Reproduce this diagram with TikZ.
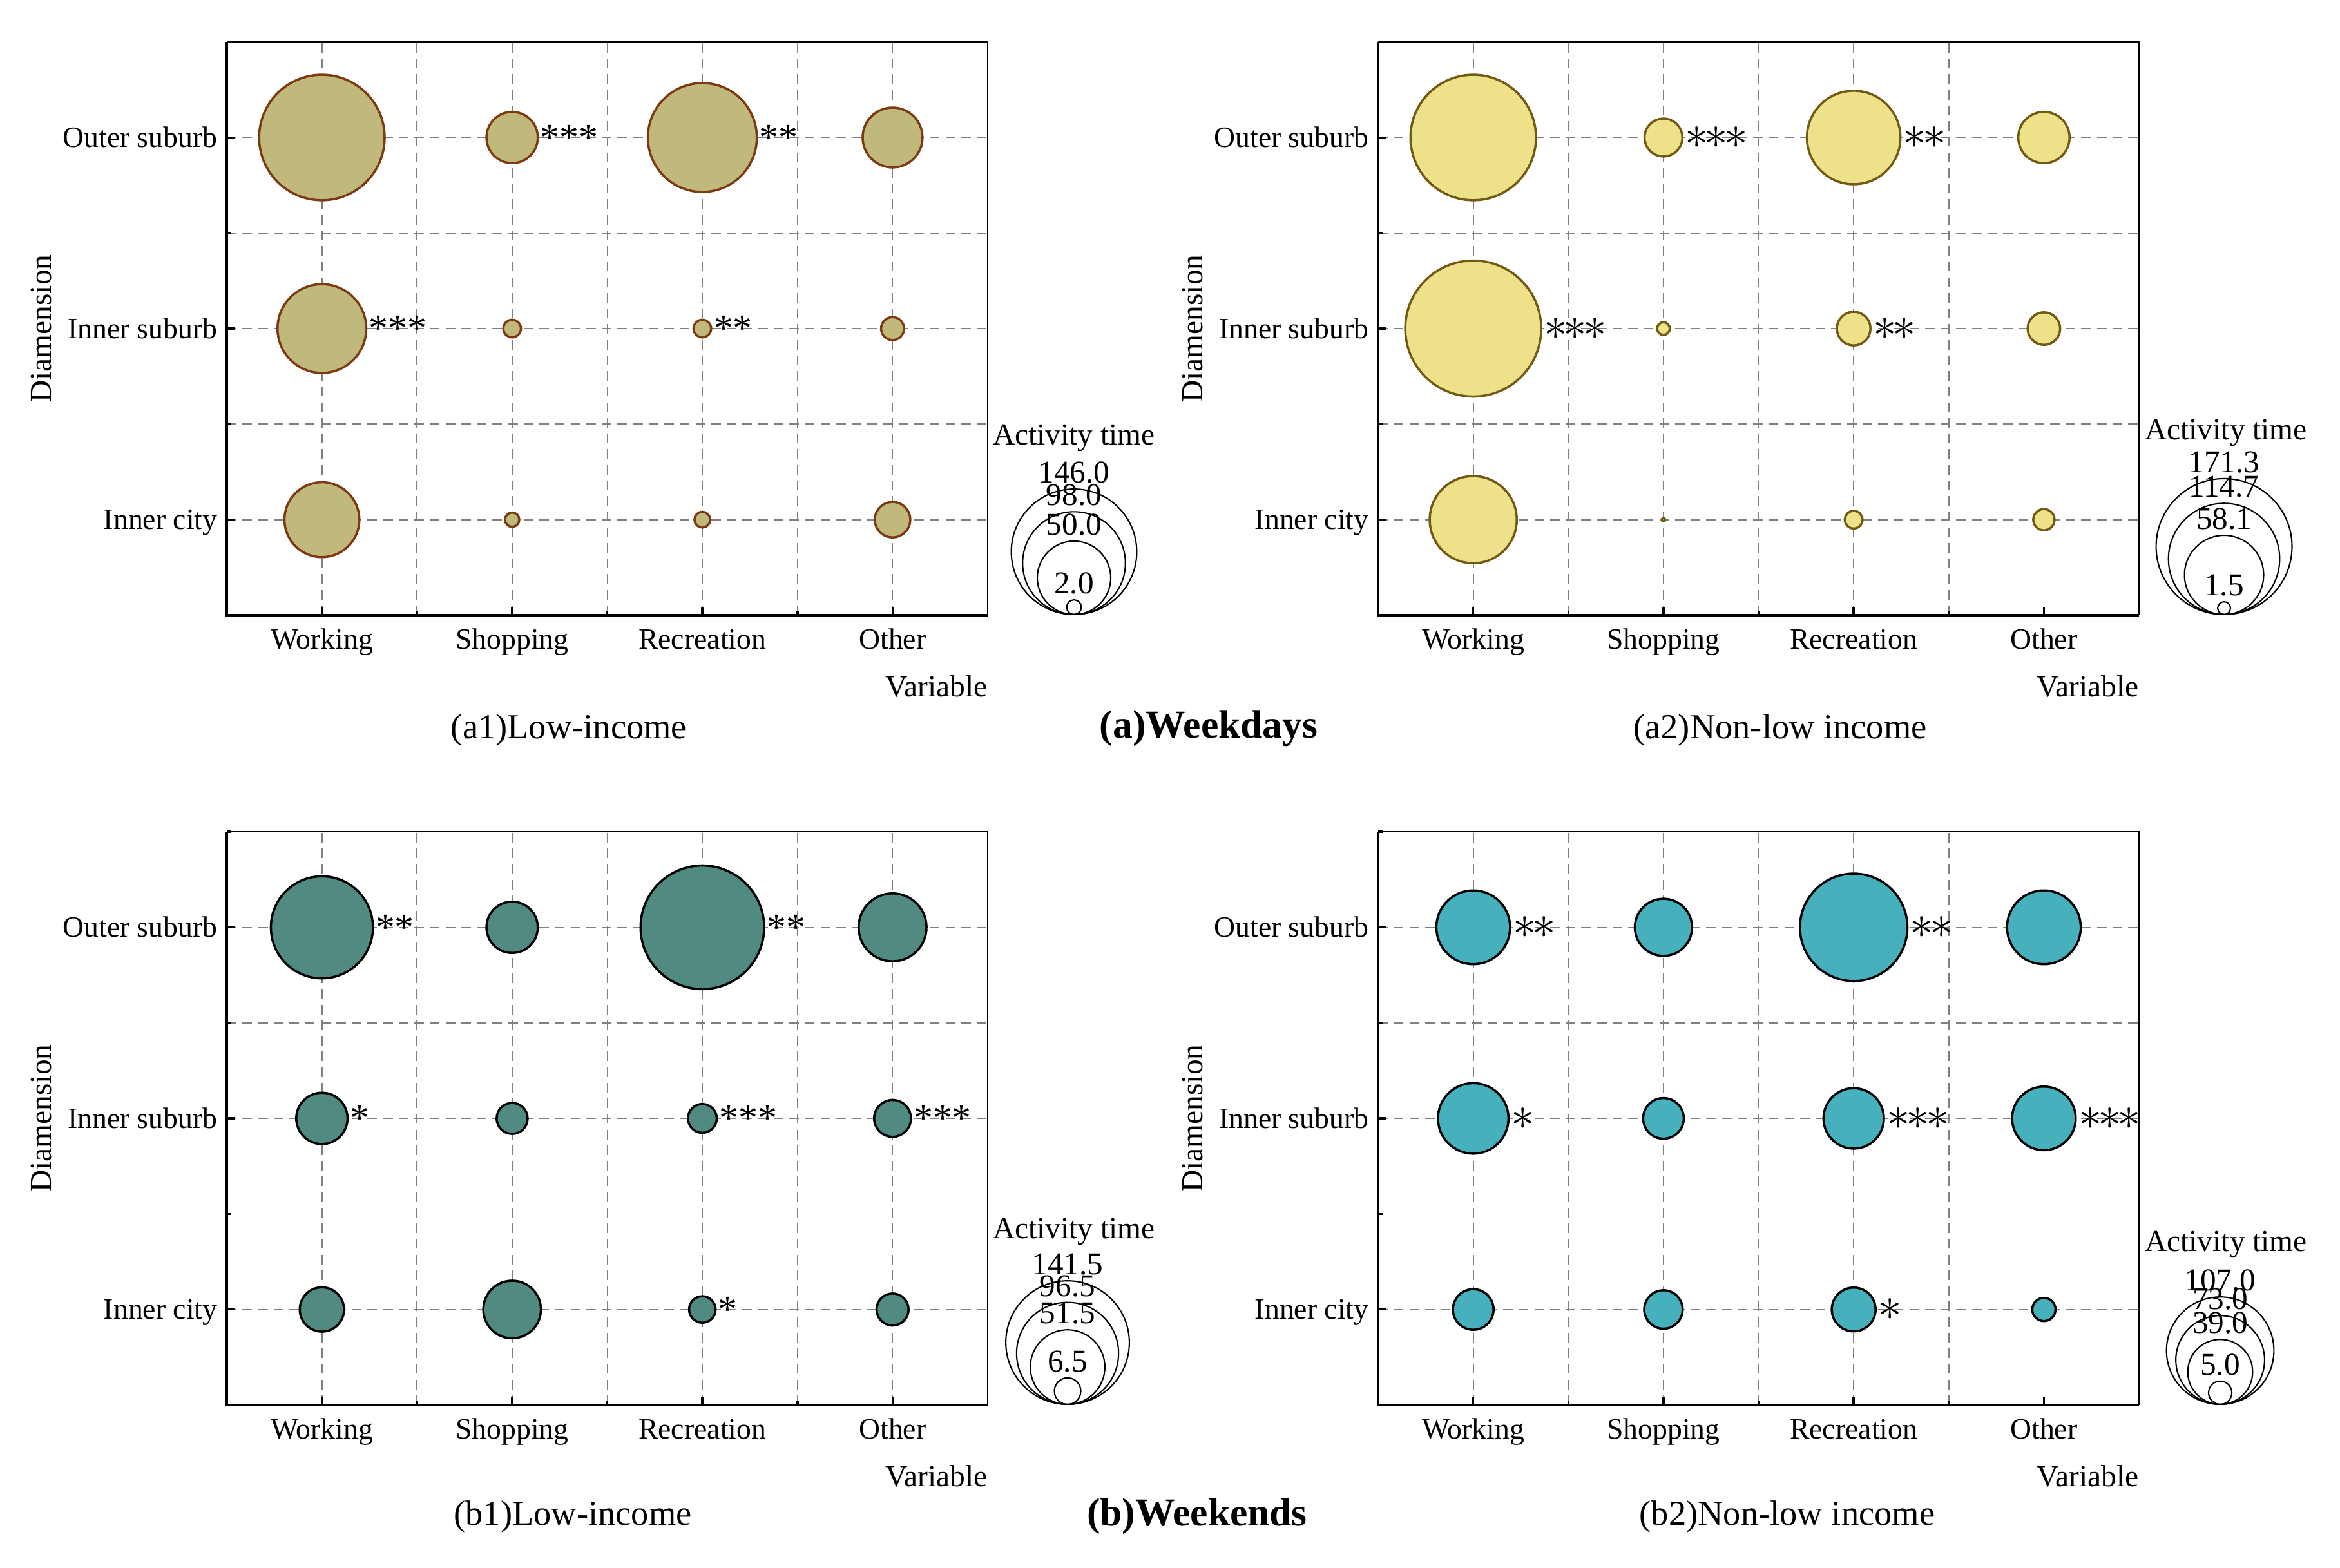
\documentclass[tikz,border=0pt]{standalone}
\usepackage{fontspec}
\setmainfont{Liberation Serif}
\usetikzlibrary{positioning}
\tikzset{>=stealth}

\definecolor{khaki}{HTML}{C1B87C}
\definecolor{rust}{HTML}{7C3A12}
\definecolor{lemon}{HTML}{EDE18A}
\definecolor{umber}{HTML}{735A12}
\definecolor{seagreen}{HTML}{508A80}
\definecolor{lagoon}{HTML}{46B0BC}

\newcommand{\bsize}{0.1612cm}
\newcommand{\mast}{\mathord{\ast}\mkern-1.5mu}

\tikzset{
  gridline/.style={draw=black!50, line width=0.5pt, dash pattern=on 4.3pt off 2.6pt},
  axisline/.style={line width=1pt},
  frameline/.style={line width=0.5pt},
  ticklabel/.style={font=\fontsize{13}{15}\selectfont, inner sep=0pt},
  axistitle/.style={font=\fontsize{13.5}{16}\selectfont, inner sep=0pt},
  caption/.style={font=\fontsize{15.5}{18}\selectfont, inner sep=0pt},
  maintitle/.style={font=\fontsize{17.5}{20}\selectfont\bfseries, inner sep=0pt},
  bubble/.style={circle, inner sep=0pt, line width=1pt},
  bubble a1/.style={bubble, draw=rust, fill=khaki},
  bubble a2/.style={bubble, draw=umber, fill=lemon},
  bubble b1/.style={bubble, draw=black, fill=seagreen},
  bubble b2/.style={bubble, draw=black, fill=lagoon},
  stars/.style={font=\fontsize{17}{20}\selectfont, inner sep=0.5pt},
  bigstars/.style={font=\fontsize{20}{22}\selectfont, inner sep=0.5pt},
  legendring/.style={circle, draw, inner sep=0pt, line width=0.6pt, anchor=south},
  legendtitle/.style={font=\fontsize{13.5}{16}\selectfont, inner sep=0pt, anchor=base},
  sizelabel/.style={font=\fontsize{14}{16}\selectfont, inner sep=0pt}
}

\newcommand{\panelaxes}[1]{%
  \foreach \i in {0.5,1,...,3.5} \draw[gridline] (\i,0) -- (\i,3);
  \foreach \j in {0.5,1,...,2.5} \draw[gridline] (0,\j) -- (4,\j);
  \draw[frameline] (0,3) -- (4,3) -- (4,0);
  \draw[axisline] (0,3) -- (0,0) -- (4,0);
  \foreach \i in {0.5,1.5,2.5,3.5} \draw[axisline] (\i,0) -- ++(0,0.13cm);
  \foreach \i in {1,2,3} \draw[axisline] (\i,0) -- ++(0,0.07cm);
  \foreach \j in {0.5,1.5,2.5} \draw[axisline] (0,\j) -- ++(0.13cm,0);
  \foreach \j in {1,2,3} \draw[axisline] (0,\j) -- ++(0.07cm,0);
  \foreach \t [count=\i] in {Working,Shopping,Recreation,Other}
    \node[ticklabel, anchor=base, yshift=-0.53cm] (#1-x\i) at (\i-0.5,0) {\t};
  \foreach \t [count=\j] in {Inner city,Inner suburb,Outer suburb}
    \node[ticklabel, anchor=base east, xshift=-0.14cm, yshift=-0.15cm] (#1-y\j) at (0,\j-0.5) {\t};
  \node[axistitle, anchor=base east, yshift=-1.27cm] (#1-xtitle) at (4,0) {Variable};
  \node[axistitle, rotate=90] (#1-ytitle) at ([xshift=-2.88cm]0,1.5) {Diamension};
}

\newcommand{\sizelegend}[4]{%
  \node[legendtitle] (#1-title) at (#3) {Activity time};
  \foreach \v [count=\k] in {#4} {
    \node[legendring, minimum size={\bsize*sqrt(\v)}] (#1-ring\k) at (#2) {};
    \node[sizelabel, above=0.07cm of #1-ring\k.north] (#1-num\k) {\v};
  }
}

\begin{document}
\begin{tikzpicture}
\path[use as bounding box, fill=white] (0,0) rectangle (36.32,24.34);

\begin{scope}[shift={(3.52cm,14.79cm)}, x=2.9525cm, y=2.966cm]
\panelaxes{a1}
\foreach \c/\r/\v in {1/3/146,2/3/24.4,3/3/110,4/3/33.2,1/2/73,2/2/2.9,3/2/2.9,4/2/4.9,1/1/52,2/1/1.9,3/1/2.3,4/1/11.7}
  \node[bubble a1, minimum size={\bsize*sqrt(\v)}] (a1-\c\r) at (\c-0.5,\r-0.5) {};
\foreach \c/\r/\s in {2/3/***,3/3/**,1/2/***,3/2/**}
  \node[stars, right=0pt of a1-\c\r] (a1-s\c\r) {\s};
\end{scope}

\begin{scope}[shift={(21.39cm,14.79cm)}, x=2.9525cm, y=2.966cm]
\panelaxes{a2}
\foreach \c/\r/\v in {1/3/146,2/3/13.3,3/3/81,4/3/24.4,1/2/171.3,2/2/1.5,3/2/10.5,4/2/9.8,1/1/70.3,2/1/0.1,3/1/2.9,4/1/4.2}
  \node[bubble a2, minimum size={\bsize*sqrt(\v)}] (a2-\c\r) at (\c-0.5,\r-0.5) {};
\foreach \c/\r/\s in {2/3/$\mast\mast\mast$,3/3/$\mast\mast$,1/2/$\mast\mast\mast$,3/2/$\mast\mast$}
  \node[bigstars, right=0pt of a2-\c\r] (a2-s\c\r) {\s};
\end{scope}

\begin{scope}[shift={(3.52cm,2.53cm)}, x=2.9525cm, y=2.966cm]
\panelaxes{b1}
\foreach \c/\r/\v in {1/3/96.5,2/3/24.4,3/3/141.5,4/3/42.7,1/2/24.4,2/2/8.9,3/2/7.7,4/2/12.6,1/1/18.2,2/1/30.8,3/1/6.5,4/1/9.5}
  \node[bubble b1, minimum size={\bsize*sqrt(\v)}] (b1-\c\r) at (\c-0.5,\r-0.5) {};
\foreach \c/\r/\s in {1/3/**,3/3/**,1/2/*,3/2/***,4/2/***,3/1/*}
  \node[stars, right=0pt of b1-\c\r] (b1-s\c\r) {\s};
\end{scope}

\begin{scope}[shift={(21.39cm,2.53cm)}, x=2.9525cm, y=2.966cm]
\panelaxes{b2}
\foreach \c/\r/\v in {1/3/50.4,2/3/30.3,3/3/107,4/3/50.4,1/2/46.1,2/2/15.3,3/2/33.8,4/2/37.5,1/1/15.3,2/1/13.7,3/1/17.8,4/1/5}
  \node[bubble b2, minimum size={\bsize*sqrt(\v)}] (b2-\c\r) at (\c-0.5,\r-0.5) {};
\foreach \c/\r/\s in {1/3/$\mast\mast$,3/3/$\mast\mast$,1/2/$\mast$,3/2/$\mast\mast\mast$,4/2/$\mast\mast\mast$,3/1/$\mast$}
  \node[bigstars, right=0pt of b2-\c\r] (b2-s\c\r) {\s};
\end{scope}

\sizelegend{la1}{16.67,14.79}{16.67,17.43}{146.0,98.0,50.0,2.0}
\sizelegend{la2}{34.52,14.79}{34.55,17.51}{171.3,114.7,58.1,1.5}
\sizelegend{lb1}{16.57,2.53}{16.67,5.11}{141.5,96.5,51.5,6.5}
\sizelegend{lb2}{34.46,2.53}{34.55,4.91}{107.0,73.0,39.0,5.0}

\node[caption] (cap-a1) at (8.83,13.01) {(a1)Low-income};
\node[caption] (cap-a2) at (27.63,13.01) {(a2)Non-low income};
\node[caption] (cap-b1) at (8.89,0.80) {(b1)Low-income};
\node[caption] (cap-b2) at (27.74,0.80) {(b2)Non-low income};
\node[maintitle] (title-a) at (18.76,13.03) {(a)Weekdays};
\node[maintitle] (title-b) at (18.58,0.80) {(b)Weekends};
\end{tikzpicture}
\end{document}
